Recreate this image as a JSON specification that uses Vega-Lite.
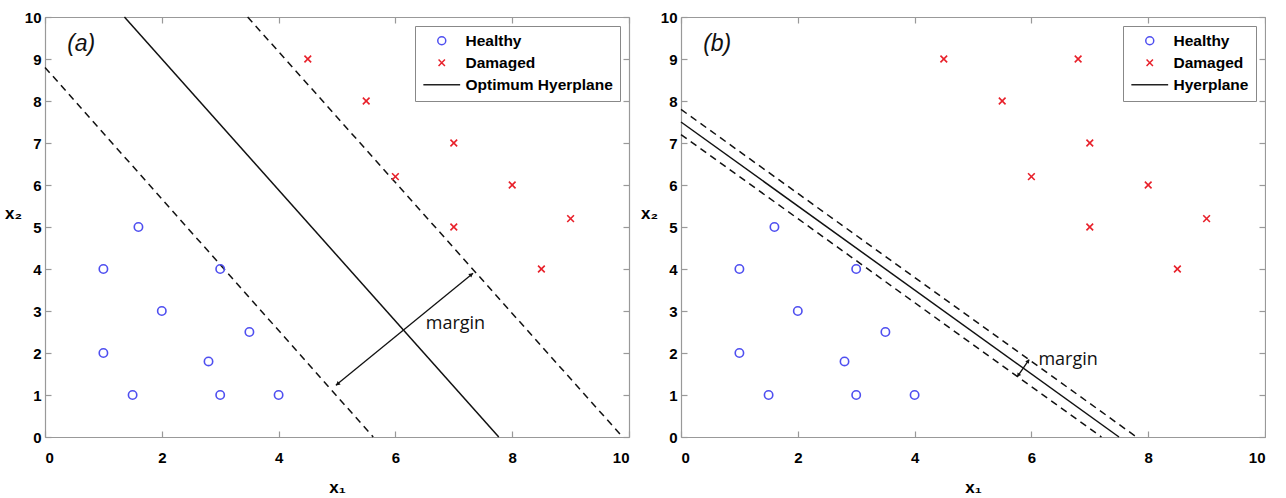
{
  "$schema": "https://vega.github.io/schema/vega-lite/v6.json",
  "background": "white",
  "padding": {"left": 4, "top": 10, "right": 0, "bottom": 0},
  "bounds": "flush",
  "spacing": 52,
  "config": {
    "font": "Liberation Sans",
    "view": {"stroke": null},
    "axis": {
      "grid": false,
      "domainColor": "#999999",
      "domainWidth": 1.2,
      "tickColor": "#999999",
      "tickSize": -6,
      "tickWidth": 1.2,
      "labelColor": "#000000",
      "labelFont": "Liberation Sans",
      "labelFontWeight": "bold",
      "labelFontSize": 15,
      "titleFont": "Liberation Sans",
      "titleFontWeight": "bold",
      "titleFontSize": 17,
      "titleColor": "#000000"
    },
    "legend": {
      "orient": "top-right",
      "offset": 9,
      "title": null,
      "strokeColor": "#888888",
      "fillColor": "white",
      "padding": 7,
      "rowPadding": 5,
      "symbolSize": 64,
      "symbolStrokeWidth": 1.5,
      "symbolOffset": 12,
      "labelOffset": 16,
      "labelFont": "Liberation Sans",
      "labelFontWeight": "bold",
      "labelFontSize": 15.5,
      "labelColor": "#000000"
    }
  },
  "resolve": {
    "scale": {"color": "independent", "shape": "independent"},
    "legend": {"color": "independent", "shape": "independent"}
  },
  "hconcat": [
    {
      "width": 584,
      "height": 420,
      "layer": [
        {
          "data": {"values": [
            {"x": 0, "y": 8.8, "line": "lower"},
            {"x": 5.62, "y": 0, "line": "lower"},
            {"x": 3.47, "y": 10, "line": "upper"},
            {"x": 9.89, "y": 0, "line": "upper"}
          ]},
          "mark": {"type": "line", "color": "#111111", "strokeWidth": 1.5, "strokeDash": [7, 5]},
          "encoding": {
            "x": {"field": "x", "type": "quantitative", "scale": {"domain": [0, 10], "nice": false, "zero": false}, "axis": null},
            "y": {"field": "y", "type": "quantitative", "scale": {"domain": [0, 10], "nice": false, "zero": false}, "axis": null},
            "detail": {"field": "line"}
          }
        },
        {
          "data": {"values": [
            {"x": 1.36, "y": 10},
            {"x": 7.77, "y": 0}
          ]},
          "mark": {"type": "line", "color": "#111111", "strokeWidth": 1.5},
          "encoding": {
            "x": {"field": "x", "type": "quantitative", "scale": {"domain": [0, 10], "nice": false, "zero": false},
                  "axis": {"orient": "top", "values": [0, 2, 4, 6, 8, 10], "labels": false, "title": null}},
            "y": {"field": "y", "type": "quantitative", "scale": {"domain": [0, 10], "nice": false, "zero": false},
                  "axis": {"orient": "right", "values": [0, 1, 2, 3, 4, 5, 6, 7, 8, 9, 10], "labels": false, "title": null}}
          }
        },
        {
          "data": {"values": [
            {"x": 4.98, "y": 1.23},
            {"x": 7.33, "y": 3.9}
          ]},
          "mark": {"type": "line", "color": "#111111", "strokeWidth": 1.3},
          "encoding": {
            "x": {"field": "x", "type": "quantitative", "axis": null},
            "y": {"field": "y", "type": "quantitative", "axis": null}
          }
        },
        {
          "data": {"values": [{"x": 7.3, "y": 3.87}]},
          "mark": {"type": "point", "shape": "triangle-up", "filled": true, "color": "#111111", "size": 22, "angle": 49, "opacity": 1},
          "encoding": {
            "x": {"field": "x", "type": "quantitative", "axis": null},
            "y": {"field": "y", "type": "quantitative", "axis": null}
          }
        },
        {
          "data": {"values": [{"x": 5.01, "y": 1.26}]},
          "mark": {"type": "point", "shape": "triangle-up", "filled": true, "color": "#111111", "size": 22, "angle": 229, "opacity": 1},
          "encoding": {
            "x": {"field": "x", "type": "quantitative", "axis": null},
            "y": {"field": "y", "type": "quantitative", "axis": null}
          }
        },
        {
          "data": {"values": [
            {"x": 1, "y": 4, "cls": "Healthy"},
            {"x": 1.6, "y": 5, "cls": "Healthy"},
            {"x": 2, "y": 3, "cls": "Healthy"},
            {"x": 1, "y": 2, "cls": "Healthy"},
            {"x": 1.5, "y": 1, "cls": "Healthy"},
            {"x": 3, "y": 4, "cls": "Healthy"},
            {"x": 3.5, "y": 2.5, "cls": "Healthy"},
            {"x": 2.8, "y": 1.8, "cls": "Healthy"},
            {"x": 3, "y": 1, "cls": "Healthy"},
            {"x": 4, "y": 1, "cls": "Healthy"},
            {"x": 4.5, "y": 9, "cls": "Damaged"},
            {"x": 5.5, "y": 8, "cls": "Damaged"},
            {"x": 7, "y": 7, "cls": "Damaged"},
            {"x": 6, "y": 6.2, "cls": "Damaged"},
            {"x": 8, "y": 6, "cls": "Damaged"},
            {"x": 7, "y": 5, "cls": "Damaged"},
            {"x": 9, "y": 5.2, "cls": "Damaged"},
            {"x": 8.5, "y": 4, "cls": "Damaged"}
          ]},
          "mark": {"type": "point", "filled": false, "strokeWidth": 1.6, "size": 70, "opacity": 1},
          "encoding": {
            "x": {"field": "x", "type": "quantitative",
                  "axis": {"orient": "bottom", "values": [0, 2, 4, 6, 8, 10], "title": "x₁", "labelPadding": 19, "titlePadding": 14}},
            "y": {"field": "y", "type": "quantitative",
                  "axis": {"orient": "left", "values": [0, 1, 2, 3, 4, 5, 6, 7, 8, 9, 10], "title": "x₂", "labelPadding": 10,
                           "titleAngle": 0, "titleX": -32, "titleY": 196, "titleAlign": "center", "titleBaseline": "middle"}},
            "color": {"field": "cls", "type": "nominal",
                      "scale": {"domain": ["Healthy", "Damaged", "Optimum Hyerplane"], "range": ["#4f4ff0", "#e8202a", "#222222"]}},
            "shape": {"field": "cls", "type": "nominal",
                      "scale": {"domain": ["Healthy", "Damaged", "Optimum Hyerplane"], "range": ["circle", "M-0.8,-0.8L0.8,0.8M-0.8,0.8L0.8,-0.8", "M-4.6,0L4.6,0"]}}
          }
        },
        {
          "data": {"values": [{"x": 6.52, "y": 2.7, "label": "margin"}]},
          "mark": {"type": "text", "font": "Open Sans", "fontSize": 18, "align": "left", "baseline": "middle", "color": "#111111"},
          "encoding": {
            "x": {"field": "x", "type": "quantitative", "axis": null},
            "y": {"field": "y", "type": "quantitative", "axis": null},
            "text": {"field": "label"}
          }
        },
        {
          "data": {"values": [{"x": 0.62, "y": 9.36, "label": "(a)"}]},
          "mark": {"type": "text", "font": "Liberation Sans", "fontStyle": "italic", "fontSize": 23, "align": "center", "baseline": "middle", "color": "#111111"},
          "encoding": {
            "x": {"field": "x", "type": "quantitative", "axis": null},
            "y": {"field": "y", "type": "quantitative", "axis": null},
            "text": {"field": "label"}
          }
        }
      ]
    },
    {
      "width": 584,
      "height": 420,
      "layer": [
        {
          "data": {"values": [
            {"x": 0, "y": 7.8, "line": "upper"},
            {"x": 7.8, "y": 0, "line": "upper"},
            {"x": 0, "y": 7.2, "line": "lower"},
            {"x": 7.2, "y": 0, "line": "lower"}
          ]},
          "mark": {"type": "line", "color": "#111111", "strokeWidth": 1.5, "strokeDash": [7, 5]},
          "encoding": {
            "x": {"field": "x", "type": "quantitative", "scale": {"domain": [0, 10], "nice": false, "zero": false}, "axis": null},
            "y": {"field": "y", "type": "quantitative", "scale": {"domain": [0, 10], "nice": false, "zero": false}, "axis": null},
            "detail": {"field": "line"}
          }
        },
        {
          "data": {"values": [
            {"x": 0, "y": 7.5},
            {"x": 7.5, "y": 0}
          ]},
          "mark": {"type": "line", "color": "#111111", "strokeWidth": 1.5},
          "encoding": {
            "x": {"field": "x", "type": "quantitative", "scale": {"domain": [0, 10], "nice": false, "zero": false},
                  "axis": {"orient": "top", "values": [0, 2, 4, 6, 8, 10], "labels": false, "title": null}},
            "y": {"field": "y", "type": "quantitative", "scale": {"domain": [0, 10], "nice": false, "zero": false},
                  "axis": {"orient": "right", "values": [0, 1, 2, 3, 4, 5, 6, 7, 8, 9, 10], "labels": false, "title": null}}
          }
        },
        {
          "data": {"values": [
            {"x": 5.76, "y": 1.44},
            {"x": 5.96, "y": 1.84}
          ]},
          "mark": {"type": "line", "color": "#111111", "strokeWidth": 1.3},
          "encoding": {
            "x": {"field": "x", "type": "quantitative", "axis": null},
            "y": {"field": "y", "type": "quantitative", "axis": null}
          }
        },
        {
          "data": {"values": [{"x": 5.945, "y": 1.81}]},
          "mark": {"type": "point", "shape": "triangle-up", "filled": true, "color": "#111111", "size": 20, "angle": 36, "opacity": 1},
          "encoding": {
            "x": {"field": "x", "type": "quantitative", "axis": null},
            "y": {"field": "y", "type": "quantitative", "axis": null}
          }
        },
        {
          "data": {"values": [{"x": 5.775, "y": 1.47}]},
          "mark": {"type": "point", "shape": "triangle-up", "filled": true, "color": "#111111", "size": 20, "angle": 216, "opacity": 1},
          "encoding": {
            "x": {"field": "x", "type": "quantitative", "axis": null},
            "y": {"field": "y", "type": "quantitative", "axis": null}
          }
        },
        {
          "data": {"values": [
            {"x": 1, "y": 4, "cls": "Healthy"},
            {"x": 1.6, "y": 5, "cls": "Healthy"},
            {"x": 2, "y": 3, "cls": "Healthy"},
            {"x": 1, "y": 2, "cls": "Healthy"},
            {"x": 1.5, "y": 1, "cls": "Healthy"},
            {"x": 3, "y": 4, "cls": "Healthy"},
            {"x": 3.5, "y": 2.5, "cls": "Healthy"},
            {"x": 2.8, "y": 1.8, "cls": "Healthy"},
            {"x": 3, "y": 1, "cls": "Healthy"},
            {"x": 4, "y": 1, "cls": "Healthy"},
            {"x": 4.5, "y": 9, "cls": "Damaged"},
            {"x": 6.8, "y": 9, "cls": "Damaged"},
            {"x": 5.5, "y": 8, "cls": "Damaged"},
            {"x": 7, "y": 7, "cls": "Damaged"},
            {"x": 6, "y": 6.2, "cls": "Damaged"},
            {"x": 8, "y": 6, "cls": "Damaged"},
            {"x": 7, "y": 5, "cls": "Damaged"},
            {"x": 9, "y": 5.2, "cls": "Damaged"},
            {"x": 8.5, "y": 4, "cls": "Damaged"}
          ]},
          "mark": {"type": "point", "filled": false, "strokeWidth": 1.6, "size": 70, "opacity": 1},
          "encoding": {
            "x": {"field": "x", "type": "quantitative",
                  "axis": {"orient": "bottom", "values": [0, 2, 4, 6, 8, 10], "title": "x₁", "labelPadding": 19, "titlePadding": 14}},
            "y": {"field": "y", "type": "quantitative",
                  "axis": {"orient": "left", "values": [0, 1, 2, 3, 4, 5, 6, 7, 8, 9, 10], "title": "x₂", "labelPadding": 10,
                           "titleAngle": 0, "titleX": -32, "titleY": 196, "titleAlign": "center", "titleBaseline": "middle"}},
            "color": {"field": "cls", "type": "nominal",
                      "scale": {"domain": ["Healthy", "Damaged", "Hyerplane"], "range": ["#4f4ff0", "#e8202a", "#222222"]}},
            "shape": {"field": "cls", "type": "nominal",
                      "scale": {"domain": ["Healthy", "Damaged", "Hyerplane"], "range": ["circle", "M-0.8,-0.8L0.8,0.8M-0.8,0.8L0.8,-0.8", "M-4.6,0L4.6,0"]}}
          }
        },
        {
          "data": {"values": [{"x": 6.12, "y": 1.84, "label": "margin"}]},
          "mark": {"type": "text", "font": "Open Sans", "fontSize": 18, "align": "left", "baseline": "middle", "color": "#111111"},
          "encoding": {
            "x": {"field": "x", "type": "quantitative", "axis": null},
            "y": {"field": "y", "type": "quantitative", "axis": null},
            "text": {"field": "label"}
          }
        },
        {
          "data": {"values": [{"x": 0.62, "y": 9.36, "label": "(b)"}]},
          "mark": {"type": "text", "font": "Liberation Sans", "fontStyle": "italic", "fontSize": 23, "align": "center", "baseline": "middle", "color": "#111111"},
          "encoding": {
            "x": {"field": "x", "type": "quantitative", "axis": null},
            "y": {"field": "y", "type": "quantitative", "axis": null},
            "text": {"field": "label"}
          }
        }
      ]
    }
  ]
}
